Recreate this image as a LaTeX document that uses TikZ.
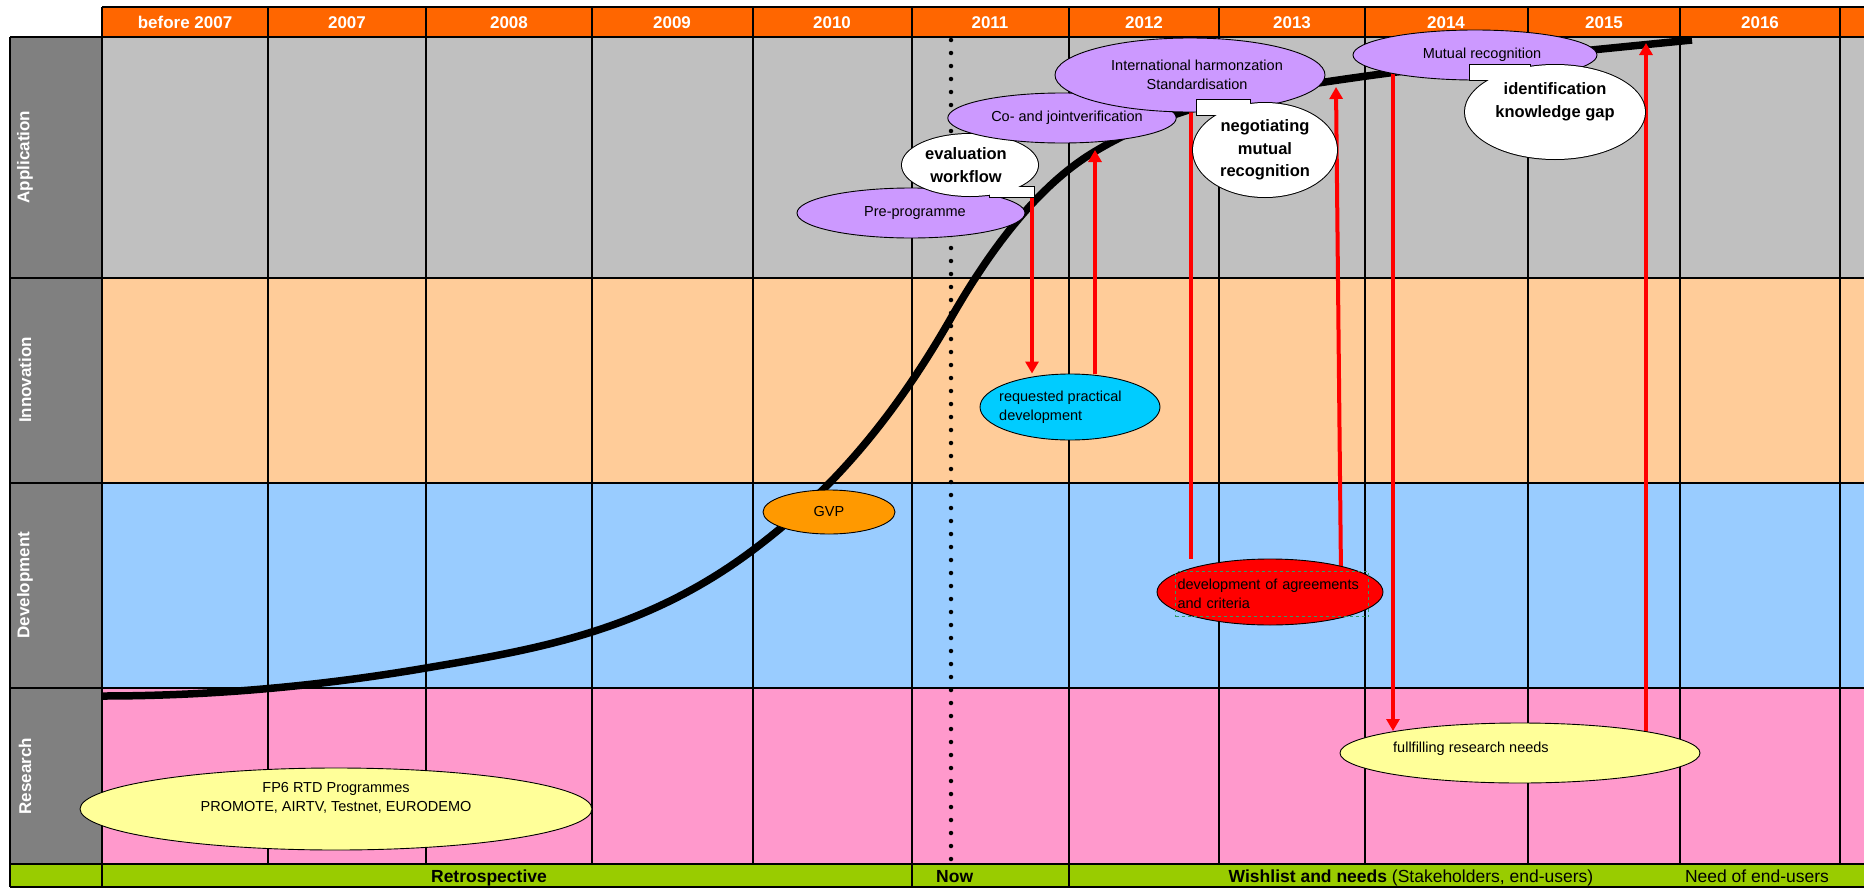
\documentclass[tikz,border=0pt]{standalone}
\usepackage{fontspec}
\setmainfont{Liberation Sans}
\usetikzlibrary{shapes.geometric,arrows.meta}
\pgfdeclarelayer{gridlayer}
\pgfdeclarelayer{linelayer}
\pgfsetlayers{gridlayer,linelayer,main}
\definecolor{hdrc}{HTML}{FF6600}
\definecolor{appc}{HTML}{C0C0C0}
\definecolor{innc}{HTML}{FFCC99}
\definecolor{devc}{HTML}{99CCFF}
\definecolor{resc}{HTML}{FF99CC}
\definecolor{footc}{HTML}{99CC00}
\definecolor{leftc}{HTML}{808080}
\definecolor{purpc}{HTML}{CC99FF}
\definecolor{cyanc}{HTML}{00CCFF}
\definecolor{gvpc}{HTML}{FF9900}
\definecolor{yelc}{HTML}{FFFF99}
\definecolor{dgreen}{HTML}{339966}
\newcommand\ntxt{\fontsize{14.5}{19.5}\selectfont}
\newcommand\btxt{\fontsize{16.5}{22.5}\selectfont\bfseries}
\newcommand\htxt{\fontsize{17}{20}\selectfont\bfseries}
\newcommand\ftxt{\fontsize{17.5}{20}\selectfont}
\begin{document}
\begin{tikzpicture}[x=1pt,y=-1pt,
  gridline/.style={line width=1.8pt, black},
  oval/.style={ellipse, draw=black, line width=0.9pt, inner sep=0pt, align=center, font=\ntxt},
  plaintext/.style={inner sep=0pt, align=left, font=\ntxt},
  hdrtext/.style={inner sep=0pt, text=white, font=\htxt, anchor=base},
  rowlabel/.style={inner sep=0pt, text=white, font=\htxt, rotate=90},
  foottext/.style={inner sep=0pt, font=\ftxt, anchor=base},
  calltext/.style={inner sep=0pt, align=center, font=\btxt},
  redarrow/.style={draw=red, line width=4pt, -{Triangle[width=13pt,length=12pt]}},
  redline/.style={draw=red, line width=4pt},
  scurve/.style={line width=7.5pt, black},
  nowline/.style={line width=4.5pt, black, line cap=round, dash pattern=on 0pt off 13pt}
]
\useasboundingbox (0,0) rectangle (1864,889);

\begin{pgfonlayer}{gridlayer}
  \fill[hdrc] (102,7) rectangle (1864,37);
  \fill[appc] (102,37) rectangle (1864,278);
  \fill[innc] (102,278) rectangle (1864,483);
  \fill[devc] (102,483) rectangle (1864,688);
  \fill[resc] (102,688) rectangle (1864,864);
  \fill[footc] (10,864) rectangle (1864,887);
  \fill[leftc] (10,37) rectangle (102,864);
  \draw[gridline] (102,7) -- (1864,7);
  \draw[gridline, line width=2.6pt] (10,37) -- (1864,37);
  \foreach \yy in {278,483,688,864,887} \draw[gridline] (10,\yy) -- (1864,\yy);
  \draw[gridline] (10,37) -- (10,887);
  \draw[gridline] (102,7) -- (102,887);
  \foreach \xx in {268,426,592,753,912,1069,1219,1365,1528,1680,1840} \draw[gridline] (\xx,7) -- (\xx,864);
  \draw[gridline] (912,864) -- (912,887);
  \draw[gridline] (1069,864) -- (1069,887);
\end{pgfonlayer}

% header
\node[hdrtext] (h0) at (185,28.5) {before 2007};
\node[hdrtext] (h1) at (347,28.5) {2007};
\node[hdrtext] (h2) at (509,28.5) {2008};
\node[hdrtext] (h3) at (672,28.5) {2009};
\node[hdrtext] (h4) at (832,28.5) {2010};
\node[hdrtext] (h5) at (990,28.5) {2011};
\node[hdrtext] (h6) at (1144,28.5) {2012};
\node[hdrtext] (h7) at (1292,28.5) {2013};
\node[hdrtext] (h8) at (1446,28.5) {2014};
\node[hdrtext] (h9) at (1604,28.5) {2015};
\node[hdrtext] (h10) at (1760,28.5) {2016};

% row labels
\node[rowlabel] (lapp) at (25,157) {Application};
\node[rowlabel] (linn) at (25,380) {Innovation};
\node[rowlabel] (ldev) at (25,585) {Development};
\node[rowlabel] (lres) at (25,776) {Research};

% footer
\node[foottext, font=\ftxt\bfseries] (fretro) at (489,882) {Retrospective};
\node[foottext, font=\ftxt\bfseries, anchor=base west] (fnow) at (936,882) {Now};
\node[foottext] (fwish) at (1411,882) {\textbf{Wishlist and needs} (Stakeholders, end-users)};
\node[foottext] (fneed) at (1757,882) {Need of end-users};

% curve and now line
\begin{pgfonlayer}{linelayer}
  \coordinate (nowtop) at (951,40);
  \coordinate (nowbot) at (951,862);
  \draw[nowline] (nowtop) -- (nowbot);
  \coordinate (s0) at (102,696);
  \coordinate (s1) at (426,668);
  \coordinate (s2) at (753,550);
  \coordinate (s3) at (951,318);
  \coordinate (s4) at (1094,152);
  \coordinate (s5) at (1325,82);
  \coordinate (s6) at (1692,40);
  \draw[scurve] (s0) .. controls (210,696) and (318,686.4) .. (s1)
    .. controls (535,649.5) and (644,631.8) .. (s2)
    .. controls (819,500.5) and (885,433.5) .. (s3)
    .. controls (998.7,234.6) and (1046.3,180.6) .. (s4)
    .. controls (1171,105.8) and (1248,93.6) .. (s5)
    .. controls (1447.3,63.7) and (1569.7,52.2) .. (s6);
\end{pgfonlayer}

% nodes
\node[oval, fill=gvpc, minimum width=132pt, minimum height=44pt] (gvp) at (829,512) {GVP};
\node[oval, fill=yelc, minimum width=512pt, minimum height=82pt] (fp6) at (336,809) {};
\node[plaintext, align=center] (fp6txt) at (336,798) {FP6 RTD Programmes\\PROMOTE, AIRTV, Testnet, EURODEMO};
\node[oval, fill=cyanc, minimum width=180pt, minimum height=66pt] (req) at (1070,407) {};
\node[plaintext, anchor=west] (reqtxt) at (999,407) {requested practical\\development};
\node[oval, fill=red, minimum width=226pt, minimum height=66pt] (agr) at (1270,592) {};
\node[draw=dgreen, dashed, line width=1pt, inner xsep=2pt, inner ysep=0pt, text width=189pt, minimum height=45pt, anchor=north west, align=left, font=\ntxt] (agrtxt) at (1175,571) {development of agreements\\and criteria};
\node[oval, fill=yelc, minimum width=360pt, minimum height=60pt] (full) at (1520,753) {};
\node[plaintext, anchor=west] (fulltxt) at (1393,749) {fullfilling research needs};

\node[oval, fill=purpc, minimum width=228pt, minimum height=50pt] (pre) at (911,213) {\hspace*{8pt}Pre-programme};

% evaluation workflow callout
\draw[line width=2pt] (970,165) ellipse [x radius=68pt, y radius=31pt];
\draw[line width=2pt] (990,187) rectangle (1034,197);
\fill[white] (970,165) ellipse [x radius=68pt, y radius=31pt];
\fill[white] (990,187) rectangle (1034,197);
\node[calltext] (evalc) at (966,165) {evaluation\\workflow};

\node[oval, fill=purpc, minimum width=226pt, minimum height=50pt] (coj) at (1062,118) {\hspace*{10pt}Co- and jointverification};
\node[oval, fill=purpc, minimum width=270pt, minimum height=74pt] (intl) at (1190,75) {\hspace*{14pt}International harmonzation\\\hspace*{14pt}Standardisation};

% negotiating callout
\draw[line width=2pt] (1265,150) ellipse [x radius=72pt, y radius=47pt];
\draw[line width=2pt] (1197,100) rectangle (1250,115);
\fill[white] (1265,150) ellipse [x radius=72pt, y radius=47pt];
\fill[white] (1197,100) rectangle (1250,115);
\node[calltext] (nego) at (1265,150) {negotiating\\mutual\\recognition};

\node[oval, fill=purpc, minimum width=244pt, minimum height=50pt] (mut) at (1475,55) {\hspace*{14pt}Mutual recognition};

% identification callout
\draw[line width=2pt] (1555,112) ellipse [x radius=90pt, y radius=47pt];
\draw[line width=2pt] (1470,65) rectangle (1530,80);
\fill[white] (1555,112) ellipse [x radius=90pt, y radius=47pt];
\fill[white] (1470,65) rectangle (1530,80);
\node[calltext] (ident) at (1555,102) {identification\\knowledge gap};

% red connectors
\begin{pgfonlayer}{linelayer}
  \coordinate (evaltail) at (1032,192);
  \coordinate (a2top) at (1095,150);
  \coordinate (a3top) at (1191,108);
  \coordinate (a4bot) at (1341,575);
  \coordinate (a4top) at (1336,87);
  \coordinate (a5x) at (1393,731);
  \coordinate (a6top) at (1646,43);
  \draw[redarrow] (evaltail) -- (evaltail |- req.north);
  \draw[redarrow] (a2top |- req.north) -- (a2top);
  \draw[redline] (a3top |- agr.north) -- (a3top);
  \draw[redarrow] (a4bot) -- (a4top);
  \draw[redarrow] (a5x |- mut.center) -- (a5x);
  \draw[redarrow] (a6top |- full.center) -- (a6top);
\end{pgfonlayer}
\end{tikzpicture}
\end{document}
